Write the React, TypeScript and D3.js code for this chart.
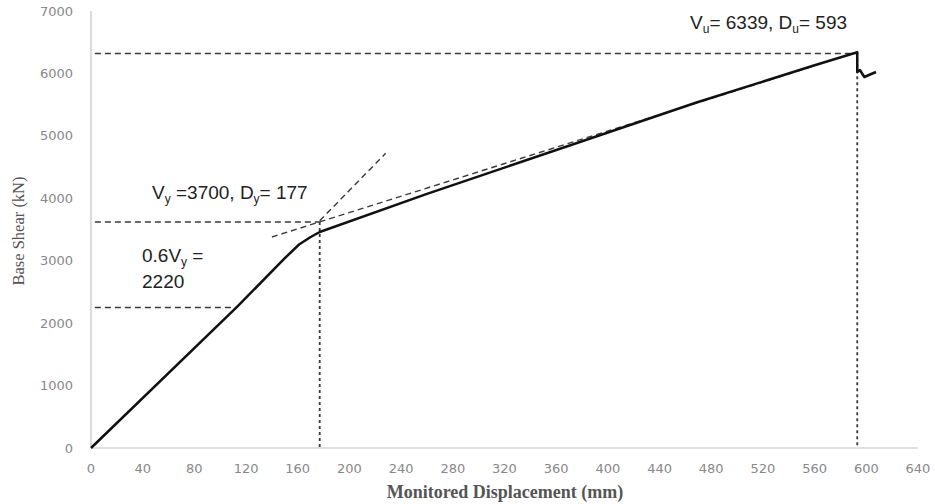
import { useEffect, useRef } from "react";
import * as d3 from "d3";

// pushover curve (mm, kN)
const displacement = [0, 113, 150, 161, 170, 177, 260, 468, 560, 593, 593, 595, 598.5, 602, 607.5];
const baseShear = [0, 2260, 3040, 3260, 3380, 3460, 4070, 5530, 6130, 6339, 6023, 6055, 5943, 5975, 6023];

const xTickValues = [0, 40, 80, 120, 160, 200, 240, 280, 320, 360, 400, 440, 480, 520, 560, 600, 640];
const yTickValues = [0, 1000, 2000, 3000, 4000, 5000, 6000, 7000];

// dashed construction lines: [start, end] pairs
const guideDisp = [[3, 593], [593, 593], [3, 177], [177, 177], [3, 113], [140, 593], [177, 228]];
const guideShear = [[6320, 6320], [6339, 0], [3620, 3620], [3620, 0], [2250, 2250], [3380, 6339], [3640, 4720]];

const W = 935;
const H = 504;

export default function App() {
  const svgRef = useRef(null);

  useEffect(() => {
    const svg = d3.select(svgRef.current);
    svg.selectAll("*").remove();

    const x = d3.scaleLinear().domain([0, 640]).range([91, 918]);
    const y = d3.scaleLinear().domain([0, 7000]).range([448, 11]);

    // axis lines
    svg
      .append("line")
      .attr("x1", x(0))
      .attr("x2", x(0))
      .attr("y1", y(7000))
      .attr("y2", y(0))
      .attr("stroke", "#c4c4c4")
      .attr("stroke-width", 1.2);
    svg
      .append("line")
      .attr("x1", x(0))
      .attr("x2", x(640))
      .attr("y1", y(0))
      .attr("y2", y(0))
      .attr("stroke", "#c4c4c4")
      .attr("stroke-width", 1.2);

    // tick labels
    svg
      .append("g")
      .selectAll("text")
      .data(yTickValues)
      .join("text")
      .attr("x", 73)
      .attr("y", (d) => y(d))
      .attr("dy", "0.35em")
      .attr("text-anchor", "end")
      .style("font-family", "DejaVu Sans")
      .style("font-size", "13px")
      .attr("fill", "#888")
      .text((d) => d);

    svg
      .append("g")
      .selectAll("text")
      .data(xTickValues)
      .join("text")
      .attr("x", (d) => x(d))
      .attr("y", 473)
      .attr("text-anchor", "middle")
      .style("font-family", "DejaVu Sans")
      .style("font-size", "13px")
      .attr("fill", "#888")
      .text((d) => d);

    // axis titles
    svg
      .append("text")
      .attr("transform", "translate(24,231) rotate(-90)")
      .attr("text-anchor", "middle")
      .style("font-family", "Liberation Serif")
      .style("font-size", "16.5px")
      .attr("fill", "#555")
      .text("Base Shear (kN)");

    svg
      .append("text")
      .attr("x", 505)
      .attr("y", 498)
      .attr("text-anchor", "middle")
      .style("font-family", "Liberation Serif")
      .style("font-size", "18px")
      .style("font-weight", "bold")
      .attr("fill", "#555")
      .text("Monitored Displacement (mm)");

    // guides
    const guides = svg.append("g").attr("fill", "none");
    guideDisp.forEach((gx, i) => {
      const gy = guideShear[i];
      const vertical = gx[0] === gx[1];
      guides
        .append("line")
        .attr("x1", x(gx[0]))
        .attr("x2", x(gx[1]))
        .attr("y1", y(gy[0]))
        .attr("y2", y(gy[1]))
        .attr("stroke", "#3a3a3a")
        .attr("stroke-width", vertical ? 1.8 : 1.4)
        .attr("stroke-dasharray", vertical ? "3,3" : "6,4");
    });

    // curve
    const pts = displacement.map((d, i) => [x(d), y(baseShear[i])]);
    svg
      .append("path")
      .attr("d", d3.line()(pts))
      .attr("fill", "none")
      .attr("stroke", "#111")
      .attr("stroke-width", 2.5)
      .attr("stroke-linejoin", "round");

    // annotations, subscripts dropped by 4px
    const note = (px, py, parts) => {
      const t = svg
        .append("text")
        .attr("x", px)
        .attr("y", py)
        .style("font-family", "Liberation Sans")
        .style("font-size", "19px")
        .attr("fill", "#222");
      let shift = 0;
      parts.forEach(([s, sub]) => {
        const target = sub ? 4 : 0;
        t.append("tspan")
          .attr("dy", target - shift)
          .style("font-size", sub ? "12px" : "19px")
          .text(s);
        shift = target;
      });
    };

    note(152, 199, [["V", false], ["y", true], [" =3700, D", false], ["y", true], ["= 177", false]]);
    note(142, 262, [["0.6V", false], ["y", true], [" =", false]]);
    note(142, 288, [["2220", false]]);
    note(690, 29, [["V", false], ["u", true], ["= 6339, D", false], ["u", true], ["= 593", false]]);
  }, []);

  return (
    <svg
      ref={svgRef}
      width={W}
      height={H}
      style={{ position: "absolute", left: 0, top: 0, background: "#fff" }}
    />
  );
}
